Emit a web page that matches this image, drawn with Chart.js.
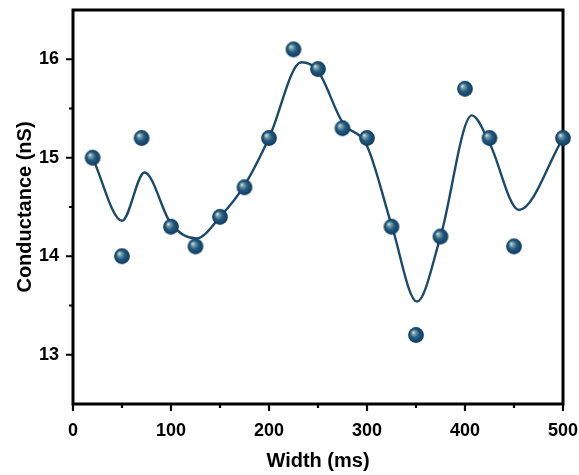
<!DOCTYPE html>
<html>
<head>
<meta charset="utf-8">
<script src="https://cdn.jsdelivr.net/npm/chart.js@4/dist/chart.umd.min.js"></script>
<style>
  body { margin: 0; background: #fff; }
  #wrap { width: 579px; height: 475px; }
</style>
</head>
<body>
<div id="wrap"><canvas id="chart"></canvas></div>
<script>
// measured points
const widths = [20, 50, 70, 100, 125, 150, 175, 200, 225, 250, 275, 300, 325, 350, 375, 400, 425, 450, 500];
const conductance = [15.0, 14.0, 15.2, 14.3, 14.1, 14.4, 14.7, 15.2, 16.1, 15.9, 15.3, 15.2, 14.3, 13.2, 14.2, 15.7, 15.2, 14.1, 15.2];

// smoothed trend curve (knots)
const fitX = [20, 50, 73, 100, 126, 150, 175, 200, 233, 250, 275, 300, 325, 351, 375, 407, 425, 455, 500];
const fitY = [15.0, 14.36, 14.85, 14.33, 14.18, 14.4, 14.72, 15.2, 15.97, 15.88, 15.36, 15.12, 14.32, 13.54, 14.2, 15.43, 15.15, 14.47, 15.2];

const xTicks = [0, 100, 200, 300, 400, 500];
const xMinor = [50, 150, 250, 350, 450];
const yTicks = [13, 14, 15, 16];
const yMinor = [13.5, 14.5, 15.5];

const navy = '#1b4a6b';
const labelFont = { family: '"Liberation Sans", Arial, sans-serif', size: 18, weight: 'bold' };
const titleFont = { family: '"Liberation Sans", Arial, sans-serif', size: 20, weight: 'bold' };

// shaded ball used as the marker
function makeBall(r) {
    const c = document.createElement('canvas');
    const s = Math.ceil(r * 2 + 2);
    c.width = c.height = s;
    const g = c.getContext('2d');
    const cx = s / 2, cy = s / 2;
    const grad = g.createRadialGradient(cx - r * 0.38, cy - r * 0.38, 0, cx, cy, r);
    grad.addColorStop(0, '#e8f0ea');
    grad.addColorStop(0.22, '#7fa3ac');
    grad.addColorStop(0.55, '#235a80');
    grad.addColorStop(1, '#0e3a5e');
    g.fillStyle = grad;
    g.beginPath();
    g.arc(cx, cy, r, 0, Math.PI * 2);
    g.fill();
    return c;
}
const ball = makeBall(7.9);

// box frame plus outward major/minor ticks
const framePlugin = {
    id: 'frame',
    beforeDatasetsDraw(chart) {
        const { ctx, chartArea: a, scales } = chart;
        ctx.save();
        ctx.strokeStyle = '#000';
        ctx.lineWidth = 3;
        ctx.strokeRect(a.left, a.top, a.right - a.left, a.bottom - a.top);
        ctx.lineWidth = 2.2;
        ctx.beginPath();
        xTicks.forEach(v => {
            const px = scales.x.getPixelForValue(v);
            ctx.moveTo(px, a.bottom); ctx.lineTo(px, a.bottom + 7);
        });
        xMinor.forEach(v => {
            const px = scales.x.getPixelForValue(v);
            ctx.moveTo(px, a.bottom); ctx.lineTo(px, a.bottom + 4);
        });
        yTicks.forEach(v => {
            const py = scales.y.getPixelForValue(v);
            ctx.moveTo(a.left, py); ctx.lineTo(a.left - 7, py);
        });
        yMinor.forEach(v => {
            const py = scales.y.getPixelForValue(v);
            ctx.moveTo(a.left, py); ctx.lineTo(a.left - 4, py);
        });
        ctx.stroke();
        ctx.restore();
    }
};

new Chart(document.getElementById('chart'), {
    type: 'scatter',
    data: {
        datasets: [
            {
                label: 'Data',
                data: widths.map((w, i) => ({ x: w, y: conductance[i] })),
                pointStyle: ball,
                pointRadius: 7.9,
                showLine: false,
                clip: false,
                order: 0
            },
            {
                label: 'Fit',
                data: fitX.map((w, i) => ({ x: w, y: fitY[i] })),
                showLine: true,
                borderColor: navy,
                borderWidth: 2.4,
                pointRadius: 0,
                cubicInterpolationMode: 'monotone',
                fill: false,
                clip: false,
                order: 1
            }
        ]
    },
    options: {
        responsive: true,
        maintainAspectRatio: false,
        animation: false,
        layout: { padding: { top: 10, right: 16, left: 0, bottom: 0 } },
        plugins: {
            legend: { display: false },
            tooltip: { enabled: false }
        },
        scales: {
            x: {
                type: 'linear',
                min: 0,
                max: 500,
                afterBuildTicks: s => { s.ticks = xTicks.map(v => ({ value: v })); },
                afterFit: s => { s.height = 71; s.paddingLeft = 0; s.paddingRight = 0; },
                grid: { display: false, drawTicks: false },
                border: { display: false },
                ticks: { color: '#000', font: labelFont, padding: 16, maxRotation: 0 },
                title: { display: true, text: 'Width (ms)', color: '#000', font: titleFont, padding: { top: 0, bottom: 2 } }
            },
            y: {
                type: 'linear',
                min: 12.5,
                max: 16.5,
                afterBuildTicks: s => { s.ticks = yTicks.map(v => ({ value: v })); },
                afterFit: s => { s.width = 73; s.paddingTop = 0; s.paddingBottom = 0; },
                grid: { display: false, drawTicks: false },
                border: { display: false },
                ticks: { color: '#000', font: labelFont, padding: 14 },
                title: { display: true, text: 'Conductance (nS)', color: '#000', font: titleFont, padding: { top: 13, bottom: 0 } }
            }
        }
    },
    plugins: [framePlugin]
});
</script>
</body>
</html>
